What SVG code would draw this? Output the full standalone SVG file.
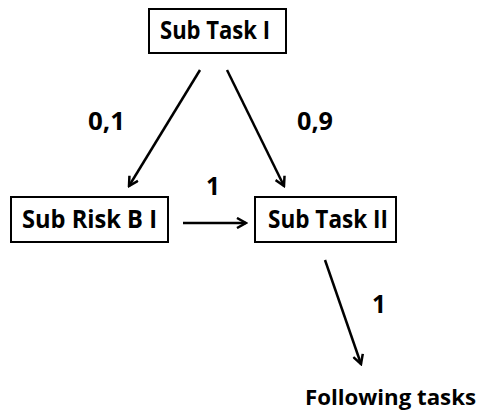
<svg xmlns="http://www.w3.org/2000/svg" width="481" height="416" viewBox="0 0 481 416">
<defs>
<style>
.box{fill:#fff;stroke:#000;stroke-width:2}
.t{font-family:"Open Sans","Liberation Sans",sans-serif;font-weight:bold;font-size:25px;fill:#000}
.e{stroke:#000;stroke-width:2.5;fill:none}
</style>
<marker id="ah" viewBox="0 0 12 12" refX="10" refY="6" markerWidth="12" markerHeight="12" markerUnits="userSpaceOnUse" orient="auto">
<path d="M1,1 L10,6 L1,11" fill="none" stroke="#000" stroke-width="2.5"/>
</marker>
</defs>
<rect width="481" height="416" fill="#fff"/>
<g id="connectors">
<line class="e" x1="200" y1="70" x2="129" y2="186" marker-end="url(#ah)"/>
<line class="e" x1="227" y1="70" x2="284" y2="186" marker-end="url(#ah)"/>
<line class="e" x1="183" y1="223" x2="246" y2="223" marker-end="url(#ah)"/>
<line class="e" x1="325" y1="260" x2="361" y2="364" marker-end="url(#ah)"/>
<text class="t" x="88" y="130" textLength="37" lengthAdjust="spacingAndGlyphs">0,1</text>
<text class="t" x="297" y="130" textLength="36" lengthAdjust="spacingAndGlyphs">0,9</text>
<text class="t" x="206" y="195" textLength="14" lengthAdjust="spacingAndGlyphs">1</text>
<text class="t" x="372" y="313" textLength="14" lengthAdjust="spacingAndGlyphs">1</text>
</g>
<g id="subtask1">
<rect class="box" x="149" y="9" width="137" height="44"/>
<text class="t" x="160" y="39" textLength="110" lengthAdjust="spacingAndGlyphs">Sub Task I</text>
</g>
<g id="subriskb1">
<rect class="box" x="11" y="197" width="157" height="45"/>
<text class="t" x="22" y="228" textLength="135" lengthAdjust="spacingAndGlyphs">Sub Risk B I</text>
</g>
<g id="subtask2">
<rect class="box" x="255" y="197" width="141" height="45"/>
<text class="t" x="268" y="228" textLength="120" lengthAdjust="spacingAndGlyphs">Sub Task II</text>
</g>
<g id="following">
<text class="t" x="305" y="405" style="font-size:22px" textLength="171" lengthAdjust="spacingAndGlyphs">Following tasks</text>
</g>
</svg>
